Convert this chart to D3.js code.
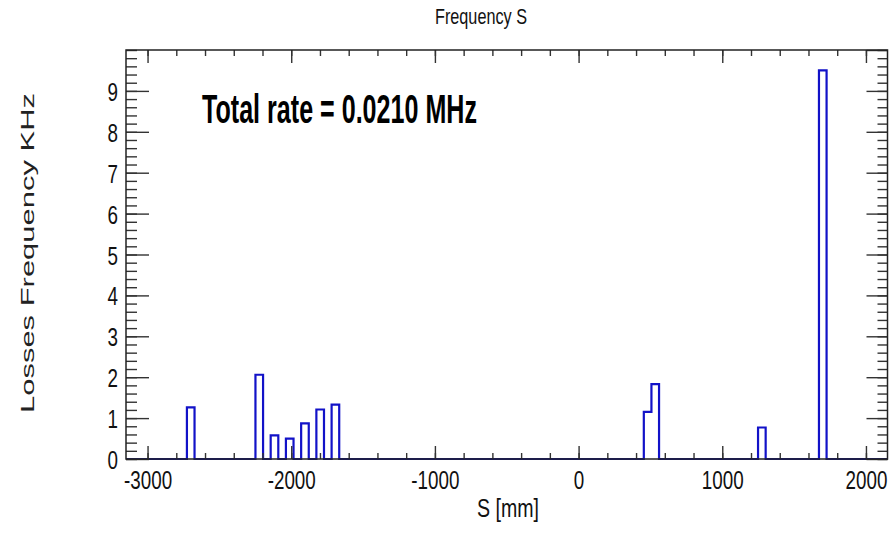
<!DOCTYPE html>
<html>
<head>
<meta charset="utf-8">
<script src="https://cdn.jsdelivr.net/npm/d3@7"></script>
<style>
  html, body { margin: 0; padding: 0; background: #fff; }
  svg { display: block; font-family: "Liberation Sans", Arial, Helvetica, sans-serif; }
</style>
</head>
<body>
<svg id="chart" width="893" height="534"></svg>
<script>
// ---------------- data ----------------
const histRange = [-3150, 2150];          // S [mm]
const nBins = 100;
// non-empty bins: lower edge S [mm] and losses frequency [kHz]
const binStarts = [-2726, -2249, -2143, -2037, -1931, -1825, -1719, 454, 507, 1249, 1673];
const rates     = [1.26, 2.06, 0.58, 0.50, 0.87, 1.21, 1.33, 1.15, 1.83, 0.77, 9.50];
const yRange = [0, 10];
const titleText = "Frequency S";
const xLabel = "S [mm]";
const yLabel = "Losses Frequency KHz";
const noteText = "Total rate = 0.0210 MHz";

// ---------------- layout ----------------
const frame = { l: 126, r: 887.5, t: 50, b: 459 };
const svg = d3.select("#chart");
svg.append("rect").attr("width", 893).attr("height", 534).attr("fill", "#fff");

const x = d3.scaleLinear().domain(histRange).range([frame.l, frame.r]);
const y = d3.scaleLinear().domain(yRange).range([frame.b, frame.t]);

// histogram contents
const binW = (histRange[1] - histRange[0]) / nBins;
const edges = d3.range(nBins + 1).map(i => histRange[0] + i * binW);
const contents = new Array(nBins).fill(0);
binStarts.forEach((s, k) => {
  const i = Math.round((s - histRange[0]) / binW);
  contents[i] = rates[k];
});
const pts = [[edges[0], 0]];
contents.forEach((v, i) => pts.push([edges[i], v]));
pts.push([edges[nBins], contents[nBins - 1]]);
pts.push([edges[nBins], 0]);

const line = d3.line().x(d => x(d[0])).y(d => y(d[1])).curve(d3.curveStepAfter);

svg.append("path")
  .attr("d", line(pts))
  .attr("fill", "none")
  .attr("stroke", "#1212c8")
  .attr("stroke-width", 2.2);

// ---------------- axes ----------------
const tickColor = "#333";
const sx = 0.71;   // horizontal compression of ROOT-like labels
const labelSize = 26.5;

function styleAxis(g) {
  g.select(".domain").remove();
  g.selectAll(".tick line").attr("stroke", tickColor).attr("stroke-width", 1.4);
}

const xMajor = x.ticks(5), xMinor = x.ticks(25);
const yMajor = y.ticks(10), yMinor = y.ticks(50);

// bottom
svg.append("g").attr("transform", `translate(0,${frame.b})`)
  .call(d3.axisBottom(x).tickValues(xMinor).tickSize(-6).tickFormat(""))
  .call(styleAxis);
const gxb = svg.append("g").attr("transform", `translate(0,${frame.b})`)
  .call(d3.axisBottom(x).tickValues(xMajor).tickSize(-13).tickFormat(d => String(d)))
  .call(styleAxis);
gxb.selectAll(".tick text")
  .attr("y", 30).attr("dy", null)
  .attr("transform", `scale(${sx},1)`)
  .attr("fill", "#111").attr("font-size", labelSize);

// top
svg.append("g").attr("transform", `translate(0,${frame.t})`)
  .call(d3.axisTop(x).tickValues(xMinor).tickSize(-6).tickFormat(""))
  .call(styleAxis);
svg.append("g").attr("transform", `translate(0,${frame.t})`)
  .call(d3.axisTop(x).tickValues(xMajor).tickSize(-13).tickFormat(""))
  .call(styleAxis);

// left
svg.append("g").attr("transform", `translate(${frame.l},0)`)
  .call(d3.axisLeft(y).tickValues(yMinor).tickSize(-11).tickFormat(""))
  .call(styleAxis);
const gyl = svg.append("g").attr("transform", `translate(${frame.l},0)`)
  .call(d3.axisLeft(y).tickValues(yMajor.filter(v => v < 10)).tickSize(-23).tickFormat(d => String(d)))
  .call(styleAxis);
gyl.selectAll(".tick text")
  .attr("x", 0).attr("dy", null).attr("y", 9.5)
  .attr("transform", `translate(-8,0) scale(${sx},1)`)
  .attr("fill", "#111").attr("font-size", labelSize);

// right
svg.append("g").attr("transform", `translate(${frame.r},0)`)
  .call(d3.axisRight(y).tickValues(yMinor).tickSize(-10).tickFormat(""))
  .call(styleAxis);
svg.append("g").attr("transform", `translate(${frame.r},0)`)
  .call(d3.axisRight(y).tickValues(yMajor).tickSize(-21).tickFormat(""))
  .call(styleAxis);

// frame
svg.append("rect")
  .attr("x", frame.l).attr("y", frame.t)
  .attr("width", frame.r - frame.l).attr("height", frame.b - frame.t)
  .attr("fill", "none").attr("stroke", "#222").attr("stroke-width", 1.5);

// ---------------- texts ----------------
svg.append("text")
  .attr("x", 481).attr("y", 24)
  .attr("text-anchor", "middle")
  .attr("font-size", 22)
  .attr("textLength", 92).attr("lengthAdjust", "spacingAndGlyphs")
  .attr("fill", "#111")
  .text(titleText);

svg.append("text")
  .attr("x", 508).attr("y", 517)
  .attr("text-anchor", "middle")
  .attr("font-size", 26)
  .attr("textLength", 62).attr("lengthAdjust", "spacingAndGlyphs")
  .attr("fill", "#111")
  .text(xLabel);

svg.append("text")
  .attr("transform", "translate(34,253) rotate(-90)")
  .attr("text-anchor", "middle")
  .attr("font-size", 19)
  .attr("textLength", 320).attr("lengthAdjust", "spacingAndGlyphs")
  .attr("fill", "#222")
  .text(yLabel);

svg.append("text")
  .attr("x", 202).attr("y", 123)
  .attr("font-size", 40).attr("font-weight", "bold")
  .attr("textLength", 275).attr("lengthAdjust", "spacingAndGlyphs")
  .attr("fill", "#000")
  .text(noteText);
</script>
</body>
</html>
